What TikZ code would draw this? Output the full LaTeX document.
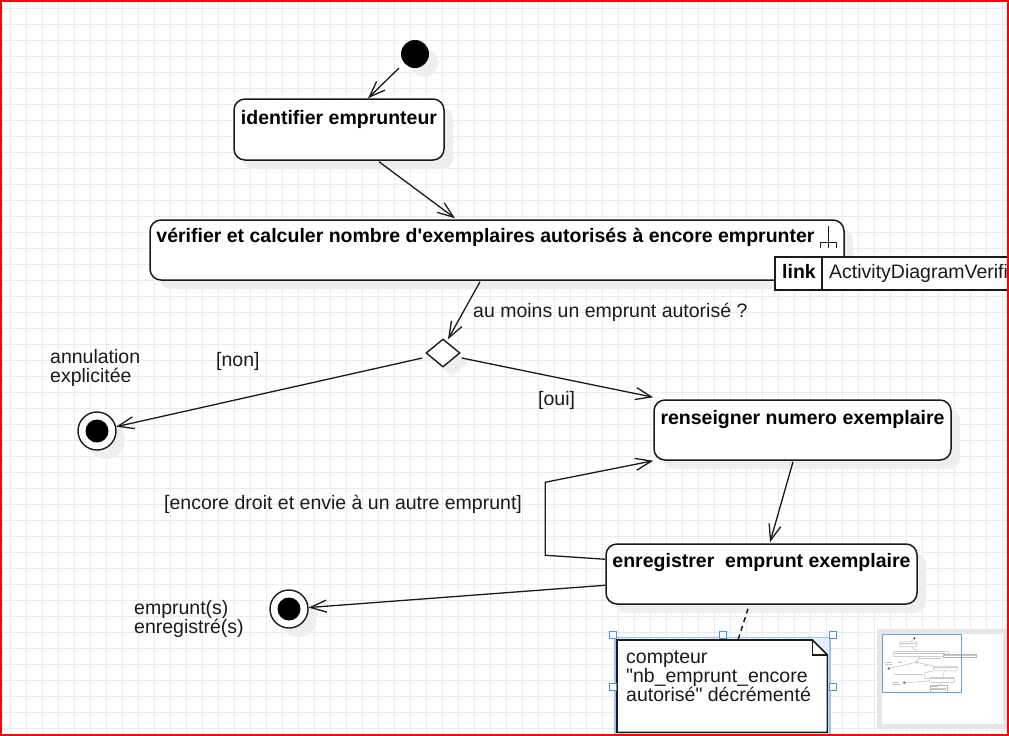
\documentclass[tikz,border=0pt]{standalone}
\usepackage{fontspec}
\setmainfont{Liberation Sans}
\newfontfamily\lsans{Liberation Sans}
\usetikzlibrary{shapes.geometric,arrows.meta,calc,shadows}
\definecolor{gridc}{HTML}{EBEBEB}
\definecolor{shadc}{HTML}{EEEEEE}
\definecolor{ink}{HTML}{1A1A1A}
\definecolor{selblue}{HTML}{4A90E2}
\definecolor{sellight}{HTML}{9EC3F5}
\definecolor{seltint}{HTML}{E4EFFD}
\definecolor{minipanel}{HTML}{E6E6E6}
\definecolor{minig}{HTML}{B8B8B8}
\begin{document}
\begin{tikzpicture}[x=1pt,y=-1pt,
  every node/.style={font=\lsans\fontsize{19.5}{20}\selectfont, text=ink},
  sh/.style={drop shadow={shadow xshift=9pt,shadow yshift=-9pt,fill=shadc,opacity=1}},
  actbox/.style={rectangle, draw=ink, line width=1.5pt, fill=white, rounded corners=11pt, inner sep=0pt, sh},
  title/.style={font=\lsans\bfseries\fontsize{19.5}{20}\selectfont, text=black, anchor=base, inner sep=0pt},
  lbl/.style={anchor=base west, inner sep=0pt},
  conn/.style={draw=ink, line width=1.3pt, -{Straight Barb[length=16pt,width=12pt,line width=1.3pt]}},
  startnode/.style={circle, fill=black, minimum size=28pt, inner sep=0pt, sh},
  endnode/.style={circle, draw=ink, fill=white, line width=1.4pt, minimum size=38pt, inner sep=0pt, sh,
    path picture={\fill[black] (path picture bounding box.center) circle (11.5pt);}},
  decision/.style={diamond, draw=ink, fill=white, line width=1.4pt, minimum width=34pt, minimum height=28pt, inner sep=0pt, sh},
  handle/.style={rectangle, draw=selblue, fill=white, line width=0.9pt, minimum size=7pt, inner sep=0pt},
  minibox/.style={draw=minig, line width=0.5pt, fill=white, rounded corners=1pt},
  minitext/.style={draw=black!22, line width=1pt},
  miniline/.style={draw=minig, line width=0.45pt}
]
\clip (0,0) rectangle (1009,736);
\fill[white] (0,0) rectangle (1009,736);
% grid
\foreach \gx in {10,26,...,1009} \draw[gridc, line width=1pt] (\gx,0) -- (\gx,736);
\foreach \gy in {8,24,...,736} \draw[gridc, line width=1pt] (0,\gy) -- (1009,\gy);

% nodes
\node[startnode] (init) at (415,54) {};
\node[actbox, minimum width=210pt, minimum height=61pt] (ident) at (339,129.5) {};
\node[title] (identt) at ($(ident.north)+(0,26)$) {identifier emprunteur};

\node[actbox, minimum width=694pt, minimum height=60pt] (verif) at (497,250) {};
\node[title, anchor=base west] (verift) at ($(verif.north west)+(7,23.5)$) {vérifier et calculer nombre d'exemplaires autorisés à encore emprunter};
\draw[ink, line width=1.3pt] ($(verif.north west)+(679,7)$) -- ($(verif.north west)+(679,29)$)
  ($(verif.north west)+(671,29)$) -- ($(verif.north west)+(671,23)$) -- ($(verif.north west)+(687,23)$) -- ($(verif.north west)+(687,29)$);

\node[decision] (dec) at (443,353) {};
\node[endnode] (fin1) at (97,431) {};
\node[actbox, minimum width=297pt, minimum height=60pt] (rens) at (802.5,430) {};
\node[title] (renst) at ($(rens.north)+(0,25)$) {renseigner numero exemplaire};
\node[actbox, minimum width=311pt, minimum height=60pt] (enreg) at (761.5,574) {};
\node[title] (enregt) at ($(enreg.north)+(0,24.5)$) {enregistrer\ \ emprunt exemplaire};
\node[endnode] (fin2) at (289,609) {};

% link tooltip
\node[rectangle, draw=ink, fill=white, line width=1.5pt, minimum width=421pt, minimum height=33pt, inner sep=0pt, anchor=north west] (linkbox) at (774,256) {};
\draw[ink, line width=1.3pt] ($(linkbox.north west)+(48,0)$) -- ($(linkbox.south west)+(48,0)$);
\node[lbl, font=\lsans\bfseries\fontsize{19.5}{20}\selectfont, text=black] (linkkey) at ($(linkbox.north west)+(8,22)$) {link};
\node[lbl] (linkval) at ($(linkbox.north west)+(55,22)$) {ActivityDiagramVerifi};

% labels
\node[lbl] (lq) at (473,317) {au moins un emprunt autorisé ?};
\node[lbl] (lnon) at (216,366) {[non]};
\node[lbl] (lann1) at (50,363) {annulation};
\node[lbl] (lann2) at (50,382) {explicitée};
\node[lbl] (loui) at (538,405) {[oui]};
\node[lbl] (lenc) at (164,509) {[encore droit et envie à un autre emprunt]};
\node[lbl] (lemp1) at (134,614) {emprunt(s)};
\node[lbl] (lemp2) at (134,633) {enregistré(s)};

% connectors
\draw[conn] ($(init.center)+(-16,14)$) -- ($(ident.north)+(29,0)$);
\draw[conn] ($(ident.south)+(40,1)$) -- ($(verif.north)+(-42,-1)$);
\draw[conn] ($(verif.south)+(-17,1)$) -- ($(dec.north)+(5,1)$);
\draw[conn] ($(dec.west)+(-3,5)$) -- (fin1);
\draw[conn] ($(dec.east)+(1,5)$) -- ($(rens.north west)+(0,-2)$);
\draw[conn] ($(rens.south)+(-9.5,1)$) -- ($(enreg.north)+(8.5,-1)$);
\draw[conn] ($(enreg.north west)+(0,16)$) -- ++(-60,-4) -- ++(0,-73) -- (rens.south west);
\draw[conn] ($(enreg.north west)+(0,42)$) -- (fin2);

% note (selected)
\node[rectangle, minimum width=210pt, minimum height=92pt, inner sep=0pt, anchor=north west] (note) at (617,640) {};
\draw[sellight, fill=seltint, line width=1.2pt] ($(note.north west)+(-2,-2.5)$) rectangle ($(note.south east)+(2.5,20)$);
\draw[ink, fill=white, line width=1.6pt] (note.north west) -- ($(note.north east)+(-15,0)$) -- ($(note.north east)+(0,15)$) -- (note.south east) -- (note.south west) -- cycle;
\draw[ink, line width=1.4pt] ($(note.north east)+(-15,0)$) -- ($(note.north east)+(-15,15)$) -- ($(note.north east)+(0,15)$);
\node[lbl] (n1) at ($(note.north west)+(9,23)$) {compteur};
\node[lbl] (n2) at ($(note.north west)+(9,42)$) {"nb\_emprunt\_encore};
\node[lbl] (n3) at ($(note.north west)+(9,61)$) {autorisé" décrémenté};
\draw[ink, line width=1.5pt, dash pattern=on 5pt off 4pt] ($(enreg.south)+(-13.5,4)$) -- ($(note.north west)+(121,0)$);
\node[handle] (h1) at (613,635) {};
\node[handle] (h2) at (723,635) {};
\node[handle] (h3) at (833,635) {};
\node[handle] (h4) at (613,687) {};
\node[handle] (h5) at (833,687) {};

% minimap
\fill[black!4] (879,631) rectangle (1012,731);
\fill[minipanel] (876.7,628.7) rectangle (1010,728.7);
\fill[white] (882.3,634) rectangle (1002.7,723.7);
\begin{scope}[shift={(881.1,634)}, scale=0.08]
  \fill[black!75] (415,54) circle (14);
  \draw[minibox] (234,99) rectangle (444,160);
  \draw[minibox] (150,220) rectangle (844,280);
  \draw[minibox, rounded corners=0pt] (774,256) rectangle (1195,289);
  \draw[minibox, rounded corners=0pt] (426,353) -- (443,339) -- (460,353) -- (443,367) -- cycle;
  \draw[minibox] (654,400) rectangle (951,460);
  \draw[minibox] (606,544) rectangle (917,604);
  \draw[minibox, rounded corners=0pt] (617,640) rectangle (827,732);
  \draw[miniline, fill=white] (97,431) circle (19);
  \fill[black!70] (97,431) circle (11);
  \draw[miniline, fill=white] (289,609) circle (19);
  \fill[black!70] (289,609) circle (11);
  \draw[miniline] (399,68) -- (368,99) (379,161) -- (455,219) (480,281) -- (448,340)
    (423,358) -- (116,425) (461,358) -- (654,398) (793,461) -- (770,543)
    (606,560) -- (546,556) -- (546,483) -- (654,461) (606,586) -- (308,608) (748,608) -- (738,640);
  \draw[minitext] (241,118) -- (436,118) (157,238) -- (815,238) (782,272) -- (1180,272)
    (661,418) -- (944,418) (613,562) -- (911,562)
    (473,311) -- (748,311) (216,360) -- (258,360) (50,356) -- (140,356) (50,376) -- (131,376)
    (538,398) -- (574,398) (164,503) -- (521,503) (134,608) -- (228,608) (134,628) -- (243,628)
    (626,657) -- (707,657) (626,676) -- (808,676) (626,696) -- (810,696);
\end{scope}
\draw[selblue!85, line width=1.1pt] (882.3,634.4) rectangle (961.7,692.3);

% red frame
\draw[red, line width=2.4pt] (1.2,1.1) rectangle (1007.8,734.9);
\end{tikzpicture}
\end{document}
